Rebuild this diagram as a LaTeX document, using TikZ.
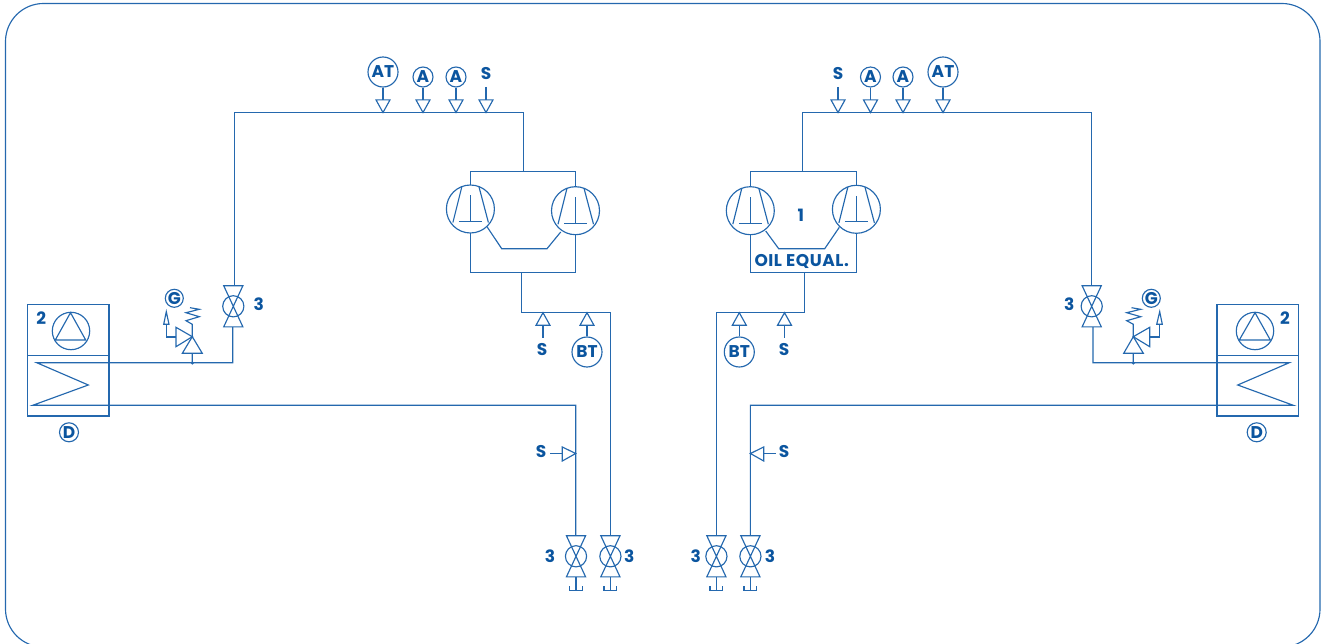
\documentclass[tikz,border=0pt]{standalone}
\usepackage{fontspec}
\setmainfont{Poppins}[BoldFont={Poppins Bold}]
\definecolor{pipe}{HTML}{2468AE}
\definecolor{ink}{HTML}{0B559F}
\tikzset{
  x=1pt,y=-1pt,
  pipeline/.style={draw=pipe,line width=1.15pt,line join=miter},
  label/.style={text=ink,font=\bfseries\fontsize{17}{17}\selectfont,inner sep=0pt},
  tagring/.style={circle,draw=pipe,line width=1.15pt,minimum size=#1,inner sep=0pt,text=ink,font=\bfseries\fontsize{17}{17}\selectfont},
  pics/bowtie/.style={code={
    \draw[pipeline] (-9.6,-20.6) -- (9.6,-20.6) -- (-9.6,20.6) -- (9.6,20.6) -- cycle;
    \draw[pipeline] (0,0) circle (10.6);
  }},
  pics/drain/.style={code={
    \draw[pipeline] (0,0) -- (0,13.5) (-6.4,9.5) -- (-6.4,13.5) -- (6.4,13.5) -- (6.4,9.5);
  }},
  pics/sensedown/.style={code={
    \draw[pipeline] (-7,-12.6) -- (7,-12.6) -- (0,0) -- cycle;
  }},
  pics/senseup/.style={code={
    \draw[pipeline] (-7,12.6) -- (7,12.6) -- (0,0) -- cycle;
  }},
  pics/compressor/.style={code={
    \draw[pipeline] (0,0) circle (24);
    \draw[pipeline] (0,-13.5) -- (0,12.5) (-11.5,12.5) -- (11.5,12.5);
    \draw[pipeline] (-8.5,-22.5) -- (-17.5,13.5) (8.5,-22.5) -- (18,13.5);
  }},
}
\begin{document}
\begin{tikzpicture}
\useasboundingbox (0,0) rectangle (1322,644);
\begin{scope}
\clip (0,0) rectangle (1322,644);
\draw[pipeline,rounded corners=38pt] (5.5,300) -- (5.5,3.5) -- (1320,3.5) -- (1320,647) -- (5.5,647) -- cycle;
\end{scope}

% ---------- named junctions, left half
\coordinate (lTopL) at (234.4,112.5);
\coordinate (lTopR) at (523.5,112.5);
\coordinate (lBoxTop) at (523.5,171.3);
\coordinate (lBoxTL) at (470.4,171.3);
\coordinate (lBoxTR) at (575.5,171.3);
\coordinate (lBoxBL) at (470.4,272.3);
\coordinate (lBoxBR) at (575.5,272.3);
\coordinate (lStemTop) at (521.7,272.3);
\coordinate (lStemBot) at (521.7,312.7);
\coordinate (lSuctR) at (610.4,312.7);
\coordinate (lV1) at (576,556.3);
\coordinate (lV2) at (610.4,556.3);
\coordinate (lV3) at (233.3,306.3);
% ---------- named junctions, right half
\coordinate (rTopL) at (802.7,112.5);
\coordinate (rTopR) at (1091.7,112.5);
\coordinate (rBoxTop) at (802.7,171.3);
\coordinate (rBoxTL) at (750.3,171.3);
\coordinate (rBoxTR) at (856.4,171.3);
\coordinate (rBoxBL) at (750.3,272.3);
\coordinate (rBoxBR) at (856.4,272.3);
\coordinate (rStemTop) at (804.3,272.3);
\coordinate (rStemBot) at (804.3,312.7);
\coordinate (rSuctL) at (716.4,312.7);
\coordinate (rV1) at (716.4,556.3);
\coordinate (rV2) at (750.4,556.3);
\coordinate (rV3) at (1091.7,306.3);

% ---------- discharge pipes
\draw[pipeline] (234.4,285.7) -- (lTopL) -- (lTopR) -- (lBoxTop);
\draw[pipeline] (rTopL |- rBoxTop) -- (rTopL) -- (rTopR) -- (1091.7,285.7);
% compressor housings
\node[inner sep=0pt] (lc1) at (470.4,209) {};
\node[inner sep=0pt] (lc2) at (575.5,210.7) {};
\node[inner sep=0pt] (rc1) at (750.3,210.7) {};
\node[inner sep=0pt] (rc2) at (856.4,209.3) {};
\draw[pipeline] (470.4,185) -- (lBoxTL) -- (lBoxTR) -- (575.5,186.7);
\draw[pipeline] (470.4,233) -- (lBoxBL) -- (lBoxBR) -- (575.5,234.7);
\draw[pipeline] (750.3,186.7) -- (rBoxTL) -- (rBoxTR) -- (856.4,185.3);
\draw[pipeline] (750.3,234.7) -- (rBoxBL) -- (rBoxBR) -- (856.4,233.3);
\pic at (lc1) {compressor};
\pic at (lc2) {compressor};
\pic at (rc1) {compressor};
\pic at (rc2) {compressor};
% oil equalisation
\draw[pipeline] (487,226.7) -- (501.7,248.7) -- (547,248.7) -- (560.7,232);
\draw[pipeline] (765.7,231) -- (778.7,248.7) -- (824.7,248.7) -- (839.3,227.3);
\node[label] (tOne) at (800.7,215.7) {1};
\node[label] (tOil) at (801.7,261.3) {\addfontfeature{LetterSpace=3}OIL EQUAL.};

% ---------- suction pipes
\draw[pipeline] (lStemTop) -- (lStemBot) -- (lSuctR) -- (610.4,535.7);
\draw[pipeline] (rStemTop) -- (rStemBot) -- (rSuctL) -- (716.4,535.7);

% ---------- top instruments, left
\node[tagring=30pt] (lAT) at (383,72) {AT};
\node[tagring=20pt] (lA1) at (423,77) {A};
\node[tagring=20pt] (lA2) at (456,77) {A};
\node[label] (lS1) at (486,74) {S};
\foreach \n/\x in {lAT/383,lA1/423,lA2/456}{\pic at (\x,112.5) {sensedown}; \draw[pipeline] (\n) -- (\x,99.9);}
\pic at (486,112.5) {sensedown}; \draw[pipeline] (486,87) -- (486,99.9);
% ---------- top instruments, right
\node[label] (rS1) at (838,74) {S};
\node[tagring=20pt] (rA1) at (870.5,77) {A};
\node[tagring=20pt] (rA2) at (903,77) {A};
\node[tagring=30pt] (rAT) at (943,72) {AT};
\foreach \n/\x in {rAT/943,rA1/870.5,rA2/903}{\pic at (\x,112.5) {sensedown}; \draw[pipeline] (\n) -- (\x,99.9);}
\pic at (838,112.5) {sensedown}; \draw[pipeline] (838,87) -- (838,99.9);

% ---------- suction instruments
\node[label] (lS2) at (542,349.3) {S};
\node[tagring=30pt] (lBT) at (587,352) {BT};
\pic at (543,312.7) {senseup}; \draw[pipeline] (543,325.3) -- (543,338);
\pic at (587,312.7) {senseup}; \draw[pipeline] (587,325.3) -- (lBT);
\node[label] (rS2) at (784,349.3) {S};
\node[tagring=30pt] (rBT) at (739.3,352) {BT};
\pic at (784.5,312.7) {senseup}; \draw[pipeline] (784.5,325.3) -- (784.5,338);
\pic at (739.3,312.7) {senseup}; \draw[pipeline] (739.3,325.3) -- (rBT);

% ---------- condensers
\node[draw=pipe,line width=1.15pt,minimum width=81.7pt,minimum height=111.7pt,inner sep=0pt] (lHx) at (68.2,360.2) {};
\draw[pipeline] (27.3,355.3) -- (109,355.3);
\node[draw=pipe,line width=1.15pt,minimum width=81.3pt,minimum height=111.7pt,inner sep=0pt] (rHx) at (1257.7,360.2) {};
\draw[pipeline] (1217,355.3) -- (1298.3,355.3);
\node[tagring=37.4pt] (lFan) at (71,331) {};
\draw[pipeline] (70.5,312.7) -- (85.7,340) -- (55.3,340) -- cycle;
\node[tagring=37.4pt] (rFan) at (1255,331) {};
\draw[pipeline] (1255,312.7) -- (1270.3,340) -- (1239.3,340) -- cycle;
\node[label] (lTwo) at (41.3,318) {2};
\node[label] (rTwo) at (1285,318) {2};
\node[tagring=19pt] (lD) at (69,432.3) {D};
\node[tagring=19pt] (rD) at (1256.7,432.3) {D};
% coil + pipes
\draw[pipeline] (232.7,327) -- (232.7,362.7) -- (36.7,362.7) -- (88.3,385) -- (32.7,405.3) -- (575.7,405.3) -- (575.7,535.7);
\draw[pipeline] (1093,327) -- (1093,362.7) -- (1289.3,362.7) -- (1237.7,385) -- (1293.3,405.3) -- (750.4,405.3) -- (750.4,535.7);

% ---------- S on liquid lines
\node[label] (lS3) at (541,452) {S};
\draw[pipeline] (562.3,447) -- (575.7,453.5) -- (562.3,461) -- cycle;
\draw[pipeline] (550,453.5) -- (562.3,453.5);
\node[label] (rS3) at (784,452) {S};
\draw[pipeline] (763.7,447) -- (750.4,453.5) -- (763.7,461) -- cycle;
\draw[pipeline] (775.7,453.5) -- (763.7,453.5);

% ---------- valves
\pic at (lV3) {bowtie};
\pic at (rV3) {bowtie};
\foreach \c in {lV1,lV2,rV1,rV2}{
  \pic at (\c) {bowtie};
  \pic at ([yshift=-20.6pt]\c) {drain};
}
\node[label] (t3a) at (258.7,304.5) {3};
\node[label] (t3b) at (1069.3,304.5) {3};
\node[label] (t3c) at (550,555.7) {3};
\node[label] (t3d) at (629.3,555.7) {3};
\node[label] (t3e) at (695.7,555.7) {3};
\node[label] (t3f) at (770,555.7) {3};

% ---------- relief valves
\fill[pipe] (192.3,363) circle (1.7);
\draw[pipeline] (192.3,363) -- (192.3,353.3) (182.3,353.3) -- (202.3,353.3) -- (192.3,336.7) -- cycle;
\draw[pipeline] (192.3,336.7) -- (176,327.3) -- (176,346.7) -- cycle;
\draw[pipeline] (176,337) -- (166.3,337) -- (166.3,324.3);
\draw[pipeline] (163.7,324.3) -- (169,324.3) -- (166.3,311.7) -- cycle;
\draw[pipeline] (192.3,336.7) -- (192.3,324.3) -- (186,320.7) -- (199.3,316.7) -- (186,312.7) -- (199.3,309.3) -- (190,307.7);
\node[tagring=18pt] (lG) at (174.3,298.3) {G};

\fill[pipe] (1133.3,363) circle (1.7);
\draw[pipeline] (1133.3,363) -- (1133.3,353.3) (1123.7,353.3) -- (1143.3,353.3) -- (1133.3,336.7) -- cycle;
\draw[pipeline] (1133.3,336.7) -- (1149.7,327.3) -- (1149.7,346.7) -- cycle;
\draw[pipeline] (1149.7,337) -- (1159.7,337) -- (1159.7,324.3);
\draw[pipeline] (1156.7,324.3) -- (1162.3,324.3) -- (1159.7,311.7) -- cycle;
\draw[pipeline] (1133.3,336.7) -- (1133.3,324.3) -- (1126.7,320.7) -- (1140.7,316.7) -- (1126.7,312.7) -- (1140.7,309.3) -- (1131.5,307.7);
\node[tagring=18pt] (rG) at (1151.3,298.3) {G};
\end{tikzpicture}
\end{document}
